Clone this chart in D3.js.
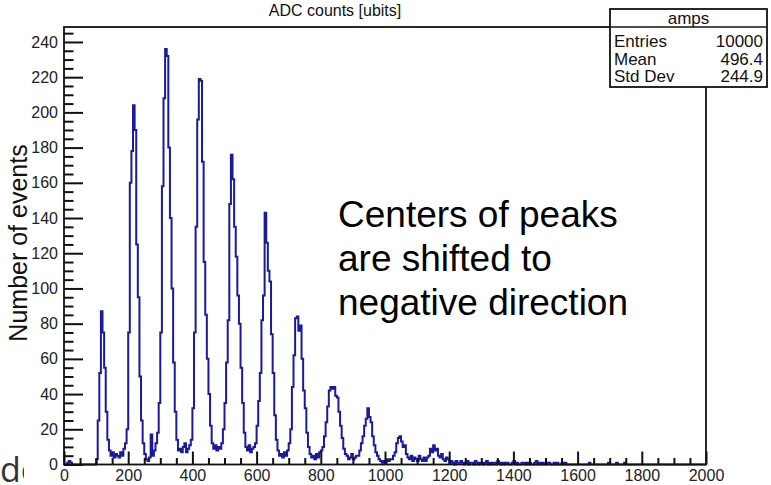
<!DOCTYPE html>
<html><head><meta charset="utf-8">
<script src="https://cdn.jsdelivr.net/npm/d3@7"></script>
<style>body{margin:0;background:#fff}svg{display:block}</style>
</head><body><svg id="c" width="771" height="485"></svg>
<script>
// bin width 5 ADC counts, 0..2000
const binWidth = 5;
const xDomain = [0, 2000];
const counts = [
  0,0,1,2,1,0,0,0,0,0,0,0,0,0,0,0,0,0,0,0,
  3,25,52,87,75,55,30,14,8,5,7,4,6,5,4,7,5,9,12,20,
  75,160,178,204,190,125,95,50,25,12,6,3,2,4,17,5,8,12,18,35,
  75,158,208,236,232,180,140,100,58,30,14,8,9,7,10,12,7,9,11,14,
  32,75,135,196,219,218,172,115,85,60,40,22,12,9,11,8,10,9,12,20,
  35,58,82,148,176,162,135,118,96,80,55,35,18,10,8,11,7,9,10,12,
  22,36,52,82,96,143,126,110,104,74,52,28,14,8,5,6,4,7,5,8,
  12,20,44,62,83,84,76,79,60,42,32,18,10,6,4,5,3,6,4,7,
  8,10,16,24,33,42,44,43,44,39,38,30,22,15,9,6,5,3,4,6,
  3,4,5,5,8,12,16,22,26,32,27,24,16,11,7,5,3,2,1,2,
  1,3,2,3,3,5,7,12,15,16,13,10,11,6,4,3,5,2,4,3,
  2,5,3,2,4,2,4,5,9,7,11,8,9,5,4,6,3,2,4,3,
  1,2,1,0,2,1,1,2,1,0,1,2,0,1,1,0,2,1,0,1,
  1,0,1,2,0,1,0,1,1,0,2,1,0,1,0,1,1,0,0,1,
  2,0,1,0,0,1,1,0,1,0,1,0,0,1,2,0,1,0,1,0,
  0,1,1,0,0,1,0,1,0,0,1,0,1,0,0,0,0,0,0,0,
  0,0,0,0,0,0,0,1,0,0,0,0,0,0,0,0,0,0,0,1,
  0,0,0,0,1,0,0,0,0,1,0,0,0,0,0,0,0,0,0,0,
  0,0,0,0,0,0,0,0,0,0,0,0,0,0,0,0,0,0,0,0,
  0,0,0,0,0,0,0,0,0,0,0,0,0,0,0,0,0,0,0,0
];
const yMajorTicks = [0,20,40,60,80,100,120,140,160,180,200,220,240];
const xMajorTicks = [0,200,400,600,800,1000,1200,1400,1600,1800,2000];
const statsRows = [["Entries","10000"],["Mean","496.4"],["Std Dev","244.9"]];
const histName = "amps";
const titleText = "ADC counts [ubits]";
const yTitle = "Number of events";
const noteLines = ["Centers of peaks","are shifted to","negative direction"];

const svg = d3.select("#c");
const FONT = "'Liberation Sans', Arial, Helvetica, sans-serif";
const L=64, R=706, T=27, B=464.5;
const x = d3.scaleLinear().domain(xDomain).range([L,R]);
const y = d3.scaleLinear().domain([0,248.5]).range([B,T]);

// slide fragment behind chart
svg.append("clipPath").attr("id","dcclip").append("rect").attr("x",0).attr("y",440).attr("width",24).attr("height",45);
svg.append("text").attr("x",0).attr("y",482).attr("clip-path","url(#dcclip)")
  .style("font-family","'Open Sans', sans-serif").style("font-size","34px").attr("fill","#333").text("dc");

// histogram
const pts = counts.map((c,i)=>[i*binWidth, c]);
pts.push([counts.length*binWidth, counts[counts.length-1]]);
const line = d3.line().x(d=>x(d[0])).y(d=>y(d[1])).curve(d3.curveStepAfter);
svg.append("path").attr("d", line(pts)).attr("fill","none").attr("stroke","#1a1a9c").attr("stroke-width",2).attr("stroke-linejoin","miter");

// axes
const yMinor = d3.range(0,250,5).filter(v=>v%20!==0);
const xMinor = d3.range(0,2001,50).filter(v=>v%200!==0);
const gy = svg.append("g").attr("transform",`translate(${L},0)`);
gy.call(d3.axisLeft(y).tickValues(yMajorTicks).tickSize(-19).tickPadding(6).tickFormat(d3.format("d")));
gy.append("g").call(d3.axisLeft(y).tickValues(yMinor).tickSize(-9.5).tickFormat(""));
const gx = svg.append("g").attr("transform",`translate(0,${B})`);
gx.call(d3.axisBottom(x).tickValues(xMajorTicks).tickSize(-13).tickPadding(5).tickFormat(d3.format("d")));
gx.append("g").call(d3.axisBottom(x).tickValues(xMinor).tickSize(-6.5).tickFormat(""));
svg.selectAll(".domain").remove();
svg.selectAll(".tick line").attr("stroke","#111").attr("stroke-width",2);
svg.selectAll(".tick text").style("font-family",FONT).style("font-size","16px").attr("fill","#222");

// frame
svg.append("rect").attr("x",L).attr("y",T).attr("width",R-L).attr("height",B-T).attr("fill","none").attr("stroke","#111").attr("stroke-width",1.8);

// title
svg.append("text").attr("x",335).attr("y",16).attr("text-anchor","middle").style("font-family",FONT).style("font-size","16px").attr("fill","#111").text(titleText);

// y title
svg.append("text").attr("transform","translate(27,243) rotate(-90)").attr("text-anchor","middle")
  .style("font-family",FONT).style("font-size","25px").attr("fill","#111").text(yTitle);

// stats box
const bx=610, by=9, bw=157, bh=78;
svg.append("rect").attr("x",bx).attr("y",by).attr("width",bw).attr("height",bh).attr("fill","#fff").attr("stroke","#111").attr("stroke-width",1.8);
svg.append("line").attr("x1",bx).attr("x2",bx+bw).attr("y1",27).attr("y2",27).attr("stroke","#111").attr("stroke-width",1.5);
svg.append("text").attr("x",bx+bw/2).attr("y",23.5).attr("text-anchor","middle").style("font-family",FONT).style("font-size","17px").attr("fill","#111").text(histName);
statsRows.forEach((r,i)=>{
  const yy = 47 + i*17.5;
  svg.append("text").attr("x",bx+4).attr("y",yy).style("font-family",FONT).style("font-size","17px").attr("fill","#111").text(r[0]);
  svg.append("text").attr("x",bx+bw-4).attr("y",yy).attr("text-anchor","end").style("font-family",FONT).style("font-size","17px").attr("fill","#111").text(r[1]);
});

// annotation
noteLines.forEach((t,i)=>{
  svg.append("text").attr("x",338).attr("y",227+i*44).style("font-family",FONT).style("font-size","37px").attr("fill","#000").text(t);
});
</script></body></html>
